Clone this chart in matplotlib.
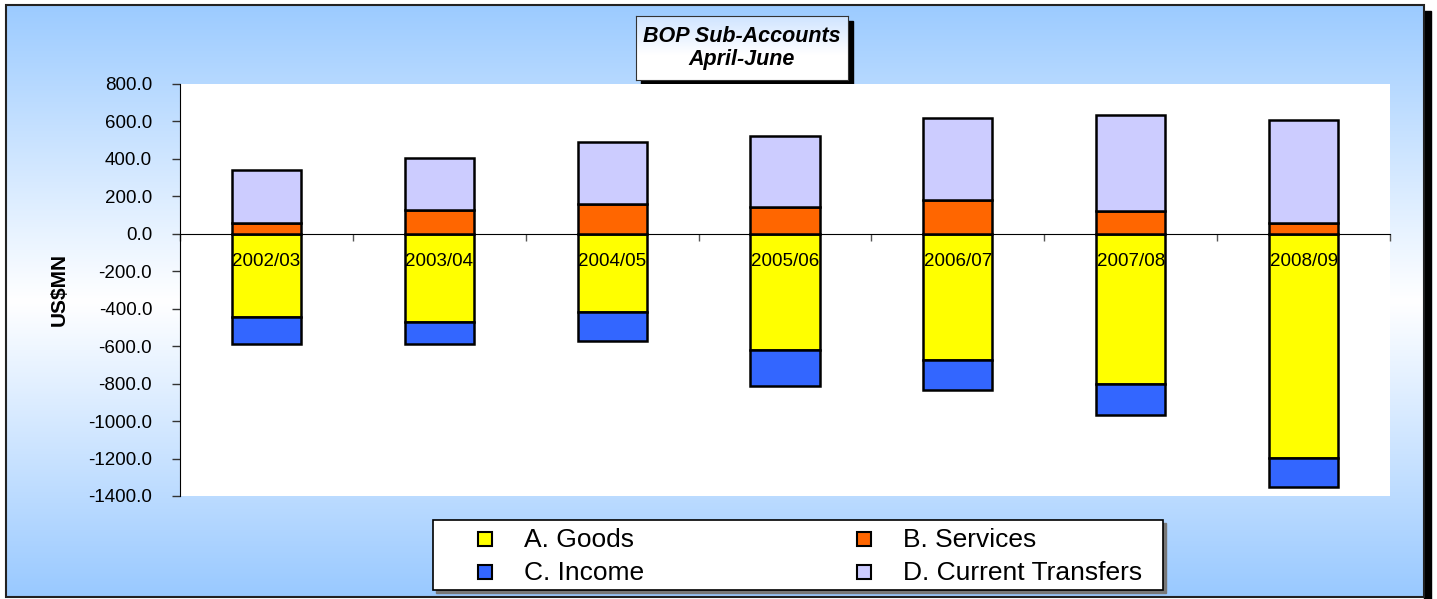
import numpy as np
import matplotlib
matplotlib.use("Agg")
import matplotlib.pyplot as plt
from matplotlib.patches import Rectangle
from matplotlib.colors import LinearSegmentedColormap

plt.rcParams['font.family'] = ['Liberation Sans', 'DejaVu Sans']

years = ["2002/03", "2003/04", "2004/05", "2005/06", "2006/07", "2007/08", "2008/09"]
goods = [-443, -470, -418, -622, -674, -804, -1195]
income = [-148, -120, -152, -193, -159, -161, -156]
services = [59, 125, 157, 143, 180, 120, 59]
transfers = [280, 282, 334, 379, 438, 512, 548]

labels = ["A. Goods", "B. Services", "C. Income", "D. Current Transfers"]
colors = ["#ffff00", "#ff6600", "#3366ff", "#ccccff"]

W, H = 1437, 599
fig = plt.figure(figsize=(W / 100, H / 100), dpi=100)

def fx(px):
    return px / W

def fy(py):
    return 1 - py / H

# background layer in pixel coords
bg = fig.add_axes([0, 0, 1, 1], zorder=-10)
bg.set_xlim(0, W)
bg.set_ylim(H, 0)
bg.axis("off")
grad_cmap = LinearSegmentedColormap.from_list(
    "bgrad", [(0, "#9ccbff"), (0.5, "#ffffff"), (1, "#99c9ff")])
grad = np.linspace(0, 1, 256).reshape(-1, 1)
bg.add_patch(Rectangle((1424, 11), 7, H, color="black", zorder=0))
bg.imshow(grad, cmap=grad_cmap, aspect="auto", extent=(6, 1424, 597, 5), zorder=1)
bg.add_patch(Rectangle((6, 5), 1418, 592, fill=False, edgecolor="#222222", lw=1.5, zorder=2))

# main plot
ax = fig.add_axes([fx(180), fy(496), fx(1390 - 180), fy(84) - fy(496)])
x = np.arange(len(years))
bw = 0.4
kw = dict(width=bw, edgecolor="black", linewidth=1.8, zorder=3)
ax.bar(x, goods, color=colors[0], **kw)
ax.bar(x, income, bottom=goods, color=colors[2], **kw)
ax.bar(x, services, color=colors[1], **kw)
ax.bar(x, transfers, bottom=services, color=colors[3], **kw)

ax.set_ylim(-1400, 800)
ax.set_xlim(-0.5, len(years) - 0.5)
yt = np.arange(-1400, 801, 200)
ax.set_yticks(yt)
ax.set_yticklabels(["%.1f" % v for v in yt], fontsize=13.5)
ax.set_xticks(np.arange(-0.5, len(years), 1.0))
ax.set_xticklabels([])
ax.spines["top"].set_visible(False)
ax.spines["right"].set_visible(False)
ax.spines["bottom"].set_position(("data", 0))
ax.spines["bottom"].set_zorder(4)
ax.tick_params(axis="both", direction="out", length=6, width=1, color="#333333")
ax.tick_params(axis="y", pad=14)
ax.tick_params(axis="x", colors="#555555", length=5)
ax.set_ylabel("US$MN", fontsize=15, fontweight="bold", labelpad=14)

for i, yr in enumerate(years):
    ax.annotate(yr, (i, 0), xytext=(0, -20), textcoords="offset points",
                ha="center", va="center", fontsize=13.5, zorder=5)

# title box with shadow
bg.add_patch(Rectangle((641, 21), 212, 64, color="black", zorder=3))
tax = fig.add_axes([fx(636), fy(80), fx(848 - 636), fy(16) - fy(80)], zorder=5)
tcmap = LinearSegmentedColormap.from_list("tgrad", [(0, "#cfe4ff"), (0.6, "#ffffff"), (1, "#ffffff")])
tax.imshow(grad, cmap=tcmap, aspect="auto", extent=(0, 1, 0, 1))
tax.set_xticks([])
tax.set_yticks([])
for s in tax.spines.values():
    s.set_color("#333333")
tax.text(0.5, 0.5, "BOP Sub-Accounts\nApril-June", ha="center", va="center",
         fontsize=15.5, fontweight="bold", style="italic", linespacing=1.1,
         transform=tax.transAxes)

# legend box with shadow
bg.add_patch(Rectangle((436, 523), 730, 70, color="#777777", zorder=3))
bg.add_patch(Rectangle((433, 520), 730, 70, facecolor="white", edgecolor="black", lw=1.2, zorder=4))
leg_x = [(478, 524), (857, 903)]
leg_y = [539, 572]
for k, (lab, col) in enumerate(zip(labels, colors)):
    (hx, tx), hy = leg_x[k % 2], leg_y[k // 2]
    bg.add_patch(Rectangle((hx, hy - 7), 14, 14, facecolor=col, edgecolor="black", lw=1.5, zorder=5))
    bg.text(tx, hy + 1, lab, fontsize=19, va="center", ha="left", zorder=6)

fig.savefig("out.png", dpi=100)
